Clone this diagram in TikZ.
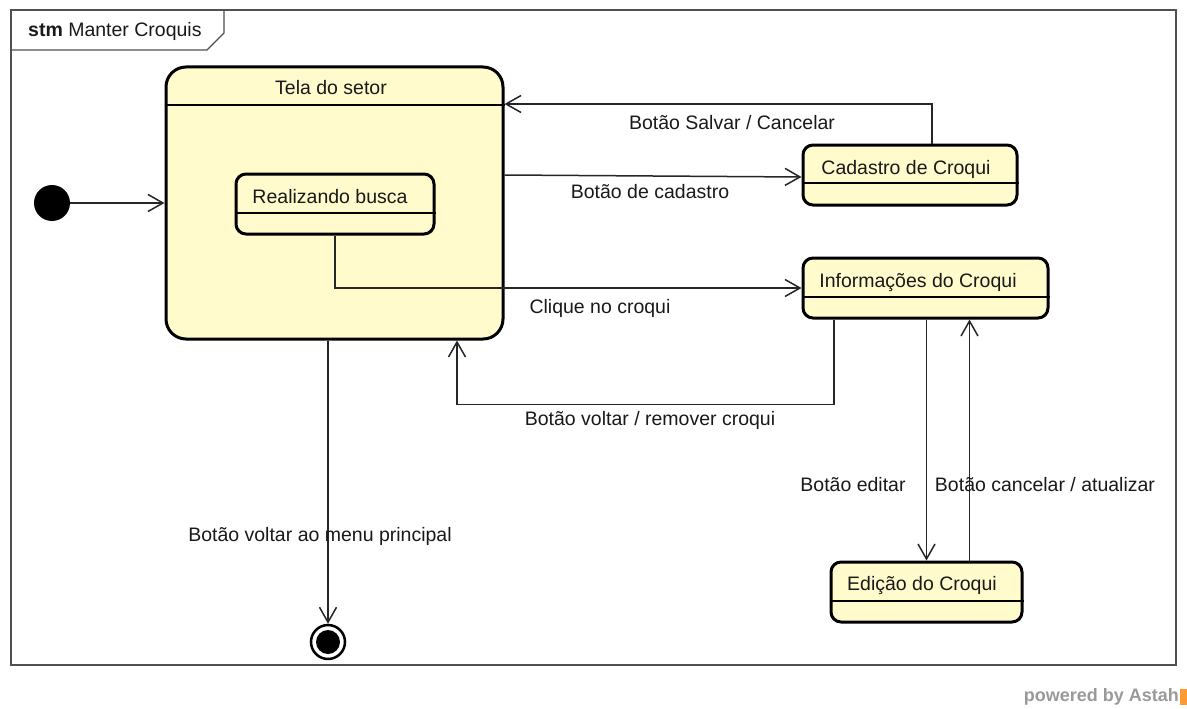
\documentclass[tikz,border=0pt]{standalone}
\usepackage{fontspec}
\setmainfont{Liberation Sans}
\usetikzlibrary{arrows.meta}
\definecolor{statefill}{RGB}{255,251,204}
\definecolor{framegray}{RGB}{80,80,80}
\tikzset{
  statebox/.style={draw=black, line width=3pt, fill=statefill, rounded corners=10pt,
    inner sep=0pt},
  bigstate/.style={statebox, rounded corners=20pt},
  sep/.style={line width=1.5pt, black},
  trans/.style={draw=black!85, line width=1.5pt, -{Straight Barb[length=15pt,width=17pt,line width=1.5pt]}},
  lbl/.style={inner sep=0pt, text=black!90, font=\fontsize{19.5}{23}\selectfont},
}
\begin{document}
\begin{tikzpicture}[x=1pt,y=-1pt]
\useasboundingbox (0,0) rectangle (1187,709);

% diagram frame with its name tab
\draw[framegray, line width=1.4pt] (11,10) rectangle (1176,665);
\draw[framegray, line width=1.4pt] (11,50) -- (207,50) -- (224,33) -- (224,10);
\node[lbl, anchor=west] (frametitle) at (28,31) {\textbf{stm} Manter Croquis};

% states
\node[bigstate, minimum width=337pt, minimum height=272pt] (tela) at (334.5,203) {};
\draw[sep] (tela.west |- 0,105) -- (tela.east |- 0,105);
\node[lbl] (telat) at (331,88) {Tela do setor};

\node[statebox, minimum width=198pt, minimum height=60pt] (busca) at (335,204) {};
\draw[sep] (busca.west |- 0,213) -- (busca.east |- 0,213);
\node[lbl] (buscat) at (330,197) {Realizando busca};

\node[statebox, minimum width=214pt, minimum height=60pt] (cad) at (910,175) {};
\draw[sep] (cad.west |- 0,183) -- (cad.east |- 0,183);
\node[lbl] (cadt) at (906,169) {Cadastro de Croqui};

\node[statebox, minimum width=245pt, minimum height=60pt] (info) at (925.5,288) {};
\draw[sep] (info.west |- 0,297) -- (info.east |- 0,297);
\node[lbl] (infot) at (918,282) {Informações do Croqui};

\node[statebox, minimum width=191pt, minimum height=60pt] (edit) at (926.5,592) {};
\draw[sep] (edit.west |- 0,601) -- (edit.east |- 0,601);
\node[lbl] (editt) at (922,585) {Edição do Croqui};

% pseudo states
\node[circle, fill=black, minimum size=36pt, inner sep=0pt] (init) at (52,203) {};
\node[circle, draw=black, line width=2.5pt, fill=white, minimum size=34pt, inner sep=0pt] (final) at (328,642) {};
\fill[black] (final) circle (12);

% transitions
\draw[trans] (init) -- (tela.west |- init);
\draw[trans] ([xshift=22pt]cad.north) |- ([yshift=99pt]tela.east);
\draw[trans] ([yshift=28pt]tela.east) -- ([yshift=-2pt]cad.west);
\draw[trans] (busca.south) |- (info.west);
\draw[trans] ([xshift=-91.5pt]info.south) -- ++(0,85) -| ([xshift=122.5pt]tela.south);
\draw[trans] (edit.north |- info.south) -- (edit.north);
\draw[trans] ([xshift=43pt]edit.north) -- ([xshift=43pt]edit.north |- info.south);
\draw[trans] (final |- tela.south) -- (final);

% transition labels
\node[lbl] (l1) at (732,123) {Botão Salvar / Cancelar};
\node[lbl] (l2) at (650,192) {Botão de cadastro};
\node[lbl] (l3) at (600,308) {Clique no croqui};
\node[lbl] (l4) at (650,420) {Botão voltar / remover croqui};
\node[lbl] (l5) at (853,485) {Botão editar};
\node[lbl] (l6) at (1045,485) {Botão cancelar / atualizar};
\node[lbl] (l7) at (320,536) {Botão voltar ao menu principal};

% footer
\node[inner sep=0pt, anchor=east, text=black!40, font=\fontsize{18}{21}\selectfont\bfseries] (footer) at (1179,697) {powered by Astah};
\fill[orange!80] (1180,689) rectangle (1187,705);
\end{tikzpicture}
\end{document}
